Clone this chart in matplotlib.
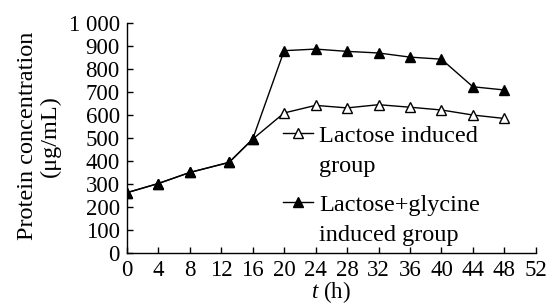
import matplotlib.pyplot as plt
from matplotlib.lines import Line2D

plt.rcParams['font.family'] = ['Liberation Serif', 'DejaVu Serif']
plt.rcParams['mathtext.fontset'] = 'custom'
plt.rcParams['mathtext.it'] = 'Liberation Serif:italic'
plt.rcParams['mathtext.rm'] = 'Liberation Serif'

# time points (h)
t = [0, 4, 8, 13, 16, 20, 24, 28, 32, 36, 40, 44, 48]
# protein concentration (ug/mL)
lactose = [262, 302, 350, 394, 495, 609, 642, 631, 645, 634, 622, 600, 585]
lactose_gly = [262, 302, 350, 394, 495, 880, 887, 877, 870, 852, 843, 723, 709]

x_ticks = list(range(0, 53, 4))
y_ticks = list(range(0, 1001, 100))
y_labels = ['0', '100', '200', '300', '400', '500', '600', '700', '800', '900', '1 000']

fig = plt.figure(figsize=(5.49, 3.04), dpi=100)
ax = fig.add_axes([0.231, 0.168, 0.745, 0.756])

h1, = ax.plot(t, lactose, color='black', lw=1.0, marker='^', markersize=7.5,
              markerfacecolor='white', markeredgecolor='black', markeredgewidth=1.0)
h2, = ax.plot(t, lactose_gly, color='black', lw=1.0, marker='^', markersize=7.5,
              markerfacecolor='black', markeredgecolor='black')

ax.set_xlim(0, 52)
ax.set_ylim(0, 1000)
ax.set_xticks(x_ticks)
ax.set_yticks(y_ticks)
ax.set_yticklabels(y_labels)
ax.tick_params(direction='in', length=4, width=1, labelsize=16.5)
ax.tick_params(axis='x', pad=5)
ax.tick_params(axis='y', pad=5)
ax.spines['top'].set_visible(False)
ax.spines['right'].set_visible(False)
for s in ['left', 'bottom']:
    ax.spines[s].set_linewidth(1.0)

ax.set_xlabel('$t$ (h)', fontsize=16.5, labelpad=-1.5)
ax.set_ylabel('Protein concentration\n(μg/mL)', fontsize=17.5, linespacing=1.1)
ax.yaxis.set_label_coords(-0.162, 0.51)

# legend: handle sits on the first line of each label
blank = Line2D([], [], color='none')
opts = dict(loc='upper left', frameon=False, fontsize=17.5, handlelength=1.23,
            handletextpad=0.25, labelspacing=0.35, borderpad=0, borderaxespad=0,
            bbox_transform=fig.transFigure)
leg1 = ax.legend([h1, blank], ['Lactose induced', 'group'],
                 bbox_to_anchor=(0.5155, 0.589), **opts)
ax.add_artist(leg1)
ax.legend([h2, blank], ['Lactose+glycine', 'induced group'],
          bbox_to_anchor=(0.5155, 0.362), **opts)

fig.savefig('out.png', dpi=100)
